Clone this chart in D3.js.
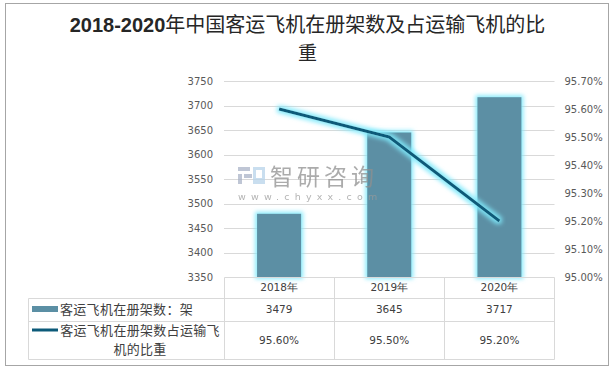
<!DOCTYPE html>
<html><head><meta charset="utf-8">
<script src="https://cdn.jsdelivr.net/npm/d3@7"></script>
<style>
body{margin:0;background:#fff;}
svg{display:block;}
</style></head>
<body>
<svg id="chart" width="614" height="369"></svg>
<script>
const years = ["2018年","2019年","2020年"];
const planes = [3479, 3645, 3717];
const shares = [0.956, 0.955, 0.952];
const shareLabels = ["95.60%","95.50%","95.20%"];
const leftTicks = [3350,3400,3450,3500,3550,3600,3650,3700,3750];
const rightTicks = [0.950,0.951,0.952,0.953,0.954,0.955,0.956,0.957];
const seriesNames = ["客运飞机在册架数：架","客运飞机在册架数占运输飞机的比重"];

const svg = d3.select("#chart");
const numFont = "'DejaVu Sans', Verdana, sans-serif";
const cjkFont = "'Noto Sans CJK SC', sans-serif";

// outer frame
svg.append("rect").attr("x",5.5).attr("y",3.5).attr("width",603).attr("height",362)
  .attr("fill","#fff").attr("stroke","#a6a6a6").attr("stroke-width",1);

// defs glow
const defs = svg.append("defs");
const f = defs.append("filter").attr("id","glow").attr("x","-30%").attr("y","-30%").attr("width","160%").attr("height","160%");
f.append("feMorphology").attr("in","SourceAlpha").attr("operator","dilate").attr("radius",1.5).attr("result","d");
f.append("feGaussianBlur").attr("in","d").attr("stdDeviation",2).attr("result","b");
f.append("feFlood").attr("flood-color","#7fe9fb").attr("flood-opacity",0.9);
f.append("feComposite").attr("in2","b").attr("operator","in").attr("result","g");
const m = f.append("feMerge");
m.append("feMergeNode").attr("in","g");
m.append("feMergeNode").attr("in","SourceGraphic");

// title
const title = svg.append("text").attr("x",307.5).attr("y",32).attr("text-anchor","middle")
  .attr("fill","#262626").attr("font-size",20);
title.append("tspan").attr("font-family","'Liberation Sans', Arial, sans-serif").attr("font-weight","bold").text("2018-2020");
title.append("tspan").attr("font-family",cjkFont).attr("font-weight","normal").text("年中国客运飞机在册架数及占运输飞机的比");
svg.append("text").attr("x",307.5).attr("y",60).attr("text-anchor","middle")
  .attr("fill","#262626").attr("font-size",19).attr("font-family",cjkFont).attr("font-weight","normal").text("重");

// scales
const x = d3.scaleBand().domain(years).range([224,554.5]).padding(0);
const yL = d3.scaleLinear().domain([3350,3750]).range([277,81]);
const yR = d3.scaleLinear().domain([0.950,0.957]).range([277,81]);

// grid
svg.append("g").selectAll("line").data(leftTicks.slice(1)).join("line")
  .attr("x1",224).attr("x2",554.5)
  .attr("y1",d=>Math.round(yL(d))+0.5).attr("y2",d=>Math.round(yL(d))+0.5)
  .attr("stroke","#d9d9d9").attr("stroke-width",1);

// left axis
const axL = d3.axisLeft(yL).tickValues(leftTicks).tickSize(0).tickPadding(11).tickFormat(d3.format("d"));
const gL = svg.append("g").attr("transform","translate(224,0)").call(axL);
gL.select(".domain").remove();
gL.selectAll("text").attr("font-family",numFont).attr("font-size",10).attr("fill","#595959");

// right axis
const axR = d3.axisRight(yR).tickValues(rightTicks).tickSize(0).tickPadding(10).tickFormat(d3.format(".2%"));
const gR = svg.append("g").attr("transform","translate(554.5,0)").call(axR);
gR.select(".domain").remove();
gR.selectAll("text").attr("font-family",numFont).attr("font-size",10).attr("fill","#595959");

// bars
const bw = x.bandwidth()*0.4;
svg.append("g").attr("filter","url(#glow)").selectAll("rect").data(planes).join("rect")
  .attr("x",(d,i)=>x(years[i])+x.bandwidth()/2-bw/2)
  .attr("width",bw)
  .attr("y",d=>yL(d))
  .attr("height",d=>yL(3350)-yL(d))
  .attr("fill","#5b8fa4");

// line
const line = d3.line().x((d,i)=>x(years[i])+x.bandwidth()/2).y(d=>yR(d));
svg.append("path").datum(shares).attr("d",line).attr("fill","none")
  .attr("stroke","#0c5a79").attr("stroke-width",3).attr("stroke-linejoin","round")
  .attr("filter","url(#glow)");

// watermark
const wm = svg.append("g").attr("opacity",0.75);
wm.append("rect").attr("x",238).attr("y",167).attr("width",12).attr("height",4).attr("fill","#aab3c8");
wm.append("rect").attr("x",238).attr("y",174).attr("width",4).attr("height",10).attr("fill","#aab3c8");
wm.append("rect").attr("x",244).attr("y",174).attr("width",8).attr("height",4).attr("fill","#aab3c8");
wm.append("rect").attr("x",253).attr("y",167).attr("width",12).attr("height",17).attr("fill","#b8d4ea");
wm.append("rect").attr("x",256).attr("y",170).attr("width",6).attr("height",8).attr("fill","#fff");
wm.append("text").attr("x",270).attr("y",185).attr("font-family",cjkFont).attr("font-size",23)
  .attr("letter-spacing",4).attr("fill","#8f8f8f").text("智研咨询");
wm.append("text").attr("x",238).attr("y",200).attr("font-family",numFont).attr("font-size",9.5)
  .attr("letter-spacing",5.2).attr("fill","#9a9a9a").text("www.chyxx.com");

// table
const tg = svg.append("g").attr("stroke","#d9d9d9").attr("stroke-width",1);
const hLines = [[224,277],[28,298],[28,321],[28,359]];
hLines.forEach(([x0,yy])=>tg.append("line").attr("x1",x0+0.5).attr("x2",554.5).attr("y1",yy+0.5).attr("y2",yy+0.5));
tg.append("line").attr("x1",28.5).attr("x2",28.5).attr("y1",298.5).attr("y2",359.5);
[224,334,444,554].forEach(xx=>tg.append("line").attr("x1",xx+0.5).attr("x2",xx+0.5).attr("y1",277.5).attr("y2",359.5));

const cx = (i)=>x(years[i])+x.bandwidth()/2;
svg.append("g").selectAll("text").data(years).join("text")
  .attr("x",(d,i)=>cx(i)).attr("y",291).attr("text-anchor","middle")
  .attr("font-family",numFont).attr("font-size",10.5).attr("fill","#404040").text(d=>d);
svg.append("g").selectAll("text").data(planes).join("text")
  .attr("x",(d,i)=>cx(i)).attr("y",313).attr("text-anchor","middle")
  .attr("font-family",numFont).attr("font-size",10.5).attr("fill","#404040").text(d=>d);
svg.append("g").selectAll("text").data(shareLabels).join("text")
  .attr("x",(d,i)=>cx(i)).attr("y",344).attr("text-anchor","middle")
  .attr("font-family",numFont).attr("font-size",10.5).attr("fill","#404040").text(d=>d);

// legend keys
svg.append("rect").attr("x",32).attr("y",306).attr("width",26).attr("height",6).attr("fill","#5b8fa4");
svg.append("line").attr("x1",32).attr("x2",58).attr("y1",330).attr("y2",330).attr("stroke","#0c5a79").attr("stroke-width",3);
svg.append("text").attr("x",60).attr("y",313.5).attr("font-family",cjkFont).attr("font-size",13)
  .attr("letter-spacing",0.3).attr("fill","#404040").text(seriesNames[0]);
svg.append("text").attr("x",140).attr("y",334.5).attr("text-anchor","middle").attr("font-family",cjkFont).attr("font-size",13)
  .attr("letter-spacing",0.3).attr("fill","#404040").text(seriesNames[1].slice(0,12));
svg.append("text").attr("x",140).attr("y",353.5).attr("text-anchor","middle").attr("font-family",cjkFont).attr("font-size",13)
  .attr("letter-spacing",0.3).attr("fill","#404040").text(seriesNames[1].slice(12));
</script>
</body></html>
